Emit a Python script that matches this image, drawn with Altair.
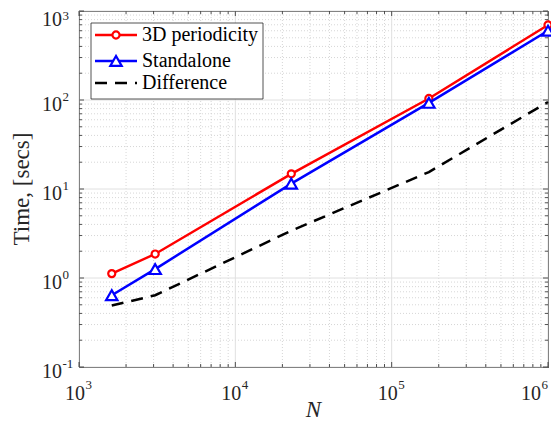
import altair as alt
import pandas as pd

# ---- data ----
N = [1620, 3070, 22800, 173000, 1000000]
t_periodic = [1.12, 1.86, 14.8, 104, 697]
t_standalone = [0.64, 1.26, 11.5, 93, 600]
t_diff = [0.49, 0.64, 3.4, 15.5, 95]
series_names = ["3D periodicity", "Standalone", "Difference"]
series_colors = ["#ff0000", "#0000ff", "#000000"]

x_major = [1e3, 1e4, 1e5]
x_exps = ["3", "4", "5"]
x_last = [1e6]
x_last_exp = ["6"]
y_major = [1e-1, 1e0, 1e1, 1e2]
y_exps = ["-1", "0", "1", "2"]
y_top = [1e3]
y_top_exp = ["3"]
x_minor = [m * 10 ** k for k in range(3, 6) for m in range(2, 10)]
y_minor = [m * 10.0 ** k for k in range(-1, 3) for m in range(2, 10)]

W, H = 469, 356
FONT = "Liberation Serif"
AX = "#262626"

xs = alt.Scale(type="log", domain=[1e3, 1e6], nice=False)
ys = alt.Scale(type="log", domain=[1e-1, 1e3], nice=False)

def X(f):
    return alt.X(f, type="quantitative", scale=xs, axis=None)

def Y(f):
    return alt.Y(f, type="quantitative", scale=ys, axis=None)

dxm = pd.DataFrame({"v": x_minor})
dym = pd.DataFrame({"v": y_minor})
dxM = pd.DataFrame({"v": x_major + x_last, "e": x_exps + x_last_exp})
dxL = pd.DataFrame({"v": x_major, "e": x_exps})
dxR = pd.DataFrame({"v": x_last, "e": x_last_exp})
dyM = pd.DataFrame({"v": y_major + y_top, "e": y_exps + y_top_exp})
dyL = pd.DataFrame({"v": y_major, "e": y_exps})
dyT = pd.DataFrame({"v": y_top, "e": y_top_exp})

layers = []
# minor grid
layers.append(alt.Chart(dxm).mark_rule(color="#cccccc", strokeDash=[1, 2], strokeWidth=0.8)
              .encode(x=X("v"), y=alt.value(0), y2=alt.value(H)))
layers.append(alt.Chart(dym).mark_rule(color="#cccccc", strokeDash=[1, 2], strokeWidth=0.8)
              .encode(y=Y("v"), x=alt.value(0), x2=alt.value(W)))
# major grid
layers.append(alt.Chart(dxM).mark_rule(color="#e0e0e0", strokeWidth=1)
              .encode(x=X("v"), y=alt.value(0), y2=alt.value(H)))
layers.append(alt.Chart(dyM).mark_rule(color="#e0e0e0", strokeWidth=1)
              .encode(y=Y("v"), x=alt.value(0), x2=alt.value(W)))
# ticks (inside, all four sides)
for d, L in ((dxM, 5), (dxm, 3)):
    layers.append(alt.Chart(d).mark_rule(color=AX, strokeWidth=0.8)
                  .encode(x=X("v"), y=alt.value(H), y2=alt.value(H - L)))
    layers.append(alt.Chart(d).mark_rule(color=AX, strokeWidth=0.8)
                  .encode(x=X("v"), y=alt.value(0), y2=alt.value(L)))
for d, L in ((dyM, 5), (dym, 3)):
    layers.append(alt.Chart(d).mark_rule(color=AX, strokeWidth=0.8)
                  .encode(y=Y("v"), x=alt.value(0), x2=alt.value(L)))
    layers.append(alt.Chart(d).mark_rule(color=AX, strokeWidth=0.8)
                  .encode(y=Y("v"), x=alt.value(W), x2=alt.value(W - L)))

# series
dp = pd.DataFrame({"N": N, "t": t_periodic})
ds = pd.DataFrame({"N": N, "t": t_standalone})
dd = pd.DataFrame({"N": N, "t": t_diff})

CIRC, TRI = 50, 130
layers.append(alt.Chart(dp).mark_line(color=series_colors[0], strokeWidth=2.5)
              .encode(x=X("N"), y=Y("t")))
layers.append(alt.Chart(dp).mark_point(shape="circle", size=CIRC, stroke=series_colors[0],
                                       fill="white", fillOpacity=1, strokeWidth=2.2, opacity=1)
              .encode(x=X("N"), y=Y("t")))
layers.append(alt.Chart(ds).mark_line(color=series_colors[1], strokeWidth=2.5)
              .encode(x=X("N"), y=Y("t")))
layers.append(alt.Chart(ds).mark_point(shape="triangle-up", size=TRI, stroke=series_colors[1],
                                       fill="white", fillOpacity=1, strokeWidth=2.2, opacity=1)
              .encode(x=X("N"), y=Y("t")))
layers.append(alt.Chart(dd).mark_line(color=series_colors[2], strokeWidth=2.5, strokeDash=[12, 8])
              .encode(x=X("N"), y=Y("t")))

# tick labels
for d, sh in ((dxL, 0), (dxR, -13)):
    layers.append(alt.Chart(d).mark_text(text="10", align="right", baseline="alphabetic", dx=6 + sh,
                                         font=FONT, fontSize=20, color=AX)
                  .encode(x=X("v"), y=alt.value(H + 33)))
    layers.append(alt.Chart(d).mark_text(align="left", baseline="alphabetic", dx=6.5 + sh,
                                         font=FONT, fontSize=13, color=AX)
                  .encode(x=X("v"), y=alt.value(H + 22), text="e:N"))
for d, d10, dsup in ((dyL, 11, 1), (dyT, 15, 9)):
    layers.append(alt.Chart(d).mark_text(text="10", align="right", baseline="alphabetic", dy=d10,
                                         font=FONT, fontSize=20, color=AX)
                  .encode(y=Y("v"), x=alt.value(-17)))
    layers.append(alt.Chart(d).mark_text(align="left", baseline="alphabetic", dy=dsup,
                                         font=FONT, fontSize=13, color=AX)
                  .encode(y=Y("v"), x=alt.value(-16.5), text="e:N"))

# axis titles
one = pd.DataFrame({"a": [0]})
layers.append(alt.Chart(one).mark_text(text="N", font=FONT, fontSize=23, fontStyle="italic",
                                       align="center", baseline="alphabetic", color=AX)
              .encode(x=alt.value(W / 2), y=alt.value(H + 50)))
layers.append(alt.Chart(one).mark_text(text="Time, [secs]", font=FONT, fontSize=23, angle=270,
                                       align="center", baseline="middle", color=AX)
              .encode(x=alt.value(-57), y=alt.value(H / 2)))

# legend
layers.append(alt.Chart(one).mark_rect(fill="white", stroke=AX, strokeWidth=0.8)
              .encode(x=alt.value(12), x2=alt.value(184), y=alt.value(12), y2=alt.value(88)))
rows = [24, 50, 72]
shapes = ["circle", "triangle-up", None]
sizes = [CIRC, TRI, 0]
dashes = [[1, 0], [1, 0], [12, 8]]
for i, name in enumerate(series_names):
    dl = pd.DataFrame({"s": [name]})
    layers.append(alt.Chart(dl).mark_rule(color=series_colors[i], strokeWidth=2.5, strokeDash=dashes[i])
                  .encode(x=alt.value(16), x2=alt.value(58), y=alt.value(rows[i])))
    if shapes[i]:
        layers.append(alt.Chart(dl).mark_point(shape=shapes[i], size=sizes[i], stroke=series_colors[i],
                                               fill="white", fillOpacity=1, strokeWidth=2.2, opacity=1)
                      .encode(x=alt.value(37), y=alt.value(rows[i])))
    layers.append(alt.Chart(dl).mark_text(align="left", baseline="middle", font=FONT, fontSize=20,
                                          color="black")
                  .encode(x=alt.value(63), y=alt.value(rows[i]), text="s:N"))

chart = alt.layer(*layers).properties(
    width=W, height=H,
    autosize=alt.AutoSizeParams(type="none"),
    padding={"left": 71, "top": 3, "right": 3, "bottom": 57},
).configure_view(stroke=AX, strokeWidth=1)

chart.save("out.html", embed_options={"renderer": "svg", "actions": False})
